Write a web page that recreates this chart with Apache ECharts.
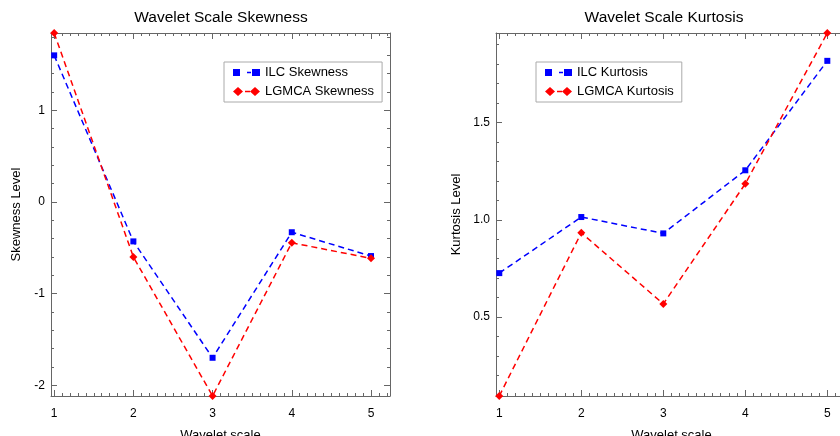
<!DOCTYPE html>
<html>
<head>
<meta charset="utf-8">
<script src="https://cdn.jsdelivr.net/npm/echarts@6/dist/echarts.min.js"></script>
<style>
html,body{margin:0;padding:0;background:#fff;}
#chart{width:840px;height:436px;}
</style>
</head>
<body>
<div id="chart"></div>
<script>
const scales = [1, 2, 3, 4, 5];
const ilcSkewness = [1.60, -0.43, -1.70, -0.33, -0.59];
const lgmcaSkewness = [1.844, -0.60, -2.117, -0.445, -0.615];
const ilcKurtosis = [0.726, 1.014, 0.930, 1.254, 1.816];
const lgmcaKurtosis = [0.095, 0.933, 0.568, 1.185, 1.959];
const xTickLabels = [1, 2, 3, 4, 5];
const skewTickLabels = [-2, -1, 0, 1];
const kurtTickLabels = [0.5, 1.0, 1.5];

const FONT = '"Liberation Sans", Arial, Helvetica, sans-serif';
const AXIS_COLOR = '#666';
const BLUE = '#0000ff';
const RED = '#ff0000';

function steps(a, b, s) {
  const out = [];
  const n = Math.round((b - a) / s);
  for (let i = 0; i <= n; i++) out.push(+(a + i * s).toFixed(4));
  return out;
}
const xMinor = steps(1, 5.2, 0.1);
const skewMinor = steps(-2.0, 1.8, 0.2);
const kurtMinor = steps(0.1, 1.9, 0.1);

const xRange = [0.96, 5.24];

function makeX(gi, pos, major, withLabel) {
  const ax = {
    type: 'value', gridIndex: gi, position: pos,
    min: xRange[0], max: xRange[1],
    splitLine: { show: false },
    axisLine: { show: major, onZero: false, lineStyle: { color: AXIS_COLOR, width: 1 } },
    axisTick: { show: true, inside: true, length: major ? 6 : 3,
      customValues: major ? xTickLabels : xMinor,
      lineStyle: { color: AXIS_COLOR, width: 1 } },
    axisLabel: { show: withLabel, customValues: xTickLabels, margin: 12,
      fontFamily: FONT, fontSize: 12, color: '#000' }
  };
  if (withLabel) {
    ax.name = 'Wavelet scale';
    ax.nameLocation = 'middle';
    ax.nameGap = 33;
    ax.nameTextStyle = { fontFamily: FONT, fontSize: 13, color: '#000' };
  }
  return ax;
}

function makeY(gi, pos, major, withLabel, rng, ticks, minor, fmt, name, gap) {
  const ax = {
    type: 'value', gridIndex: gi, position: pos,
    min: rng[0], max: rng[1],
    splitLine: { show: false },
    axisLine: { show: major, onZero: false, lineStyle: { color: AXIS_COLOR, width: 1 } },
    axisTick: { show: true, inside: true, length: major ? 6 : 3,
      customValues: major ? ticks : minor,
      lineStyle: { color: AXIS_COLOR, width: 1 } },
    axisLabel: { show: withLabel, customValues: ticks, margin: 6,
      formatter: fmt, fontFamily: FONT, fontSize: 12, color: '#000' }
  };
  if (withLabel) {
    ax.name = name;
    ax.nameLocation = 'middle';
    ax.nameGap = gap;
    ax.nameTextStyle = { fontFamily: FONT, fontSize: 13, color: '#000' };
  }
  return ax;
}

const skewRange = [Math.min(...ilcSkewness, ...lgmcaSkewness), Math.max(...ilcSkewness, ...lgmcaSkewness)];
const kurtRange = [Math.min(...ilcKurtosis, ...lgmcaKurtosis), Math.max(...ilcKurtosis, ...lgmcaKurtosis)];
const fmtInt = v => String(Math.round(v));
const fmt1 = v => v.toFixed(1);

const xAxes = [];
const yAxes = [];
[0, 1].forEach(gi => {
  xAxes.push(makeX(gi, 'bottom', true, true));
  xAxes.push(makeX(gi, 'bottom', false, false));
  xAxes.push(makeX(gi, 'top', true, false));
  xAxes.push(makeX(gi, 'top', false, false));
});
[[skewRange, skewTickLabels, skewMinor, fmtInt, 'Skewness Level', 28],
 [kurtRange, kurtTickLabels, kurtMinor, fmt1, 'Kurtosis Level', 33]].forEach((c, gi) => {
  yAxes.push(makeY(gi, 'left', true, true, c[0], c[1], c[2], c[3], c[4], c[5]));
  yAxes.push(makeY(gi, 'left', false, false, c[0], c[1], c[2], c[3], c[4], c[5]));
  yAxes.push(makeY(gi, 'right', true, false, c[0], c[1], c[2], c[3], c[4], c[5]));
  yAxes.push(makeY(gi, 'right', false, false, c[0], c[1], c[2], c[3], c[4], c[5]));
});

function pairs(ys) { return scales.map((x, i) => [x, ys[i]]); }

function lineSeries(name, ys, color, symbol, size, gi) {
  return {
    name: name, type: 'line', xAxisIndex: gi * 4, yAxisIndex: gi * 4,
    data: pairs(ys), symbol: symbol, symbolSize: size, showSymbol: true,
    itemStyle: { color: color },
    lineStyle: { color: color, width: 1.5, type: [6, 4] },
    animation: false
  };
}

const ICON_SQ = 'path://M0,1h7v7h-7zM14,3.8h4v1.4h-4zM19,1h8v7h-8z';
const ICON_DI = 'path://M0,4.5L5,0L10,4.5L5,9zM12,3.8h5v1.4h-5zM17,4.5L22,0L27,4.5L22,9z';

const legendCommon = {
  orient: 'vertical', top: 62, itemWidth: 27, itemHeight: 9, itemGap: 6,
  padding: [4, 8, 4, 9], borderColor: '#aaa', borderWidth: 1,
  selectedMode: false,
  textStyle: { fontFamily: FONT, fontSize: 13, color: '#000' }
};

const chart = echarts.init(document.getElementById('chart'), null, { renderer: 'canvas' });
chart.setOption({
  animation: false,
  backgroundColor: '#fff',
  grid: [
    { left: 51, right: 450, top: 33, bottom: 40, outerBoundsMode: 'none', containLabel: false },
    { left: 496, right: -7, top: 33, bottom: 40, outerBoundsMode: 'none', containLabel: false }
  ],
  graphic: [
    { type: 'text', x: 221, y: 18, style: { text: 'Wavelet Scale Skewness', font: '15.5px ' + FONT, fill: '#000', align: 'center', verticalAlign: 'middle', textAlign: 'center', textVerticalAlign: 'middle' } },
    { type: 'text', x: 664, y: 18, style: { text: 'Wavelet Scale Kurtosis', font: '15.5px ' + FONT, fill: '#000', align: 'center', verticalAlign: 'middle', textAlign: 'center', textVerticalAlign: 'middle' } }
  ],
  legend: [
    Object.assign({}, legendCommon, { left: 224, data: [{ name: 'ILC Skewness', icon: ICON_SQ }, { name: 'LGMCA Skewness', icon: ICON_DI }] }),
    Object.assign({}, legendCommon, { left: 536, data: [{ name: 'ILC Kurtosis', icon: ICON_SQ }, { name: 'LGMCA Kurtosis', icon: ICON_DI }] })
  ],
  xAxis: xAxes,
  yAxis: yAxes,
  series: [
    lineSeries('ILC Skewness', ilcSkewness, BLUE, 'rect', 6, 0),
    lineSeries('LGMCA Skewness', lgmcaSkewness, RED, 'diamond', 8, 0),
    lineSeries('ILC Kurtosis', ilcKurtosis, BLUE, 'rect', 6, 1),
    lineSeries('LGMCA Kurtosis', lgmcaKurtosis, RED, 'diamond', 8, 1)
  ]
});
</script>
</body>
</html>
